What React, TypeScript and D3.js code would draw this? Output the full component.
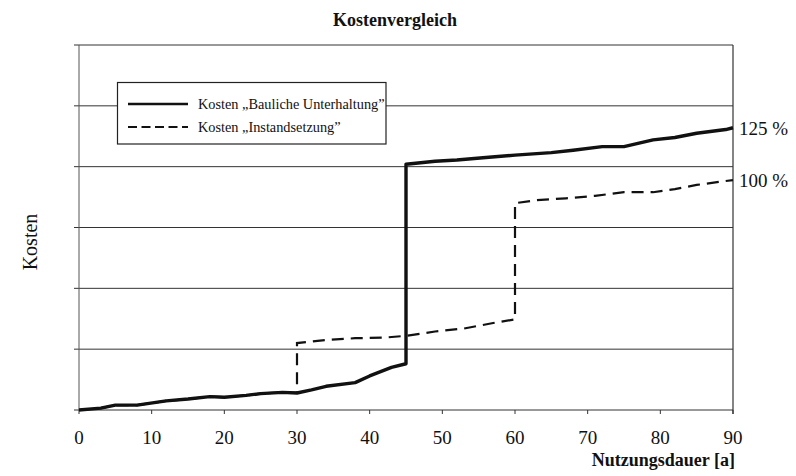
import React from "react";
import { scaleLinear, line } from "d3";

// years and cost values (in grid units, 6 grid steps on the y axis)
const yearsBau = [0, 3, 5, 8, 12, 15, 18, 20, 23, 25, 28, 30, 32, 34, 38, 40, 43, 45, 45, 49, 52, 56, 60, 65, 68, 72, 75, 79, 82, 85, 89, 90];
const costBau = [0, 0.03, 0.08, 0.08, 0.15, 0.18, 0.22, 0.21, 0.24, 0.27, 0.29, 0.28, 0.33, 0.39, 0.45, 0.56, 0.7, 0.76, 4.04, 4.09, 4.11, 4.15, 4.19, 4.23, 4.27, 4.33, 4.33, 4.44, 4.48, 4.55, 4.61, 4.64];

const yearsInst = [0, 3, 5, 8, 12, 15, 18, 20, 23, 25, 28, 30, 30, 34, 38, 42, 45, 49, 53, 57, 60, 60, 63, 67, 71, 75, 79, 82, 85, 90];
const costInst = [0, 0.03, 0.08, 0.08, 0.15, 0.18, 0.22, 0.21, 0.24, 0.27, 0.29, 0.28, 1.1, 1.15, 1.18, 1.19, 1.22, 1.29, 1.34, 1.43, 1.49, 3.4, 3.45, 3.48, 3.52, 3.58, 3.58, 3.63, 3.7, 3.78];

const xTicks = [0, 10, 20, 30, 40, 50, 60, 70, 80, 90];
const gridLevels = [0, 1, 2, 3, 4, 5, 6];

const legendLabels = ["Kosten \u201EBauliche Unterhaltung\u201D", "Kosten \u201EInstandsetzung\u201D"];
const endLabels = [
  { text: "125 %", value: 4.64 },
  { text: "100 %", value: 3.78 },
];

const W = 796;
const H = 476;
const margin = { left: 79, right: 63, top: 45, bottom: 66 };

export default function App() {
  const x = scaleLinear().domain([0, 90]).range([margin.left, W - margin.right]);
  const y = scaleLinear().domain([0, 6]).range([H - margin.bottom, margin.top]);

  const lineGen = line<[number, number]>()
    .x((d) => x(d[0]))
    .y((d) => y(d[1]));

  const bau = yearsBau.map((t, i) => [t, costBau[i]] as [number, number]);
  const inst = yearsInst.map((t, i) => [t, costInst[i]] as [number, number]);

  const font = "'Liberation Serif', 'DejaVu Serif', serif";
  const x0 = x(0);
  const x1 = x(90);

  return (
    <svg width={W} height={H} style={{ position: "absolute", left: 0, top: 0, background: "#fff" }} fontFamily={font}>
      <text x={395} y={26} textAnchor="middle" fontSize={18} fontWeight="bold" fill="#111">Kostenvergleich</text>

      {/* grid lines + y ticks */}
      {gridLevels.map((g) => (
        <line key={g} x1={x0 - 5} x2={x1} y1={y(g)} y2={y(g)} stroke="#333" strokeWidth={1} />
      ))}
      <line x1={x0} x2={x0} y1={y(6)} y2={y(0)} stroke="#555" strokeWidth={1} />
      <line x1={x1} x2={x1} y1={y(6)} y2={y(0) + 4} stroke="#333" strokeWidth={1.2} />

      {/* x ticks */}
      {xTicks.map((t) => (
        <g key={t}>
          <line x1={x(t)} x2={x(t)} y1={y(0)} y2={y(0) + 4} stroke="#333" />
          <text x={x(t)} y={444} textAnchor="middle" fontSize={19} fill="#111">{t}</text>
        </g>
      ))}

      <path d={lineGen(inst) || ""} fill="none" stroke="#111" strokeWidth={2.2} strokeDasharray="12,7" />
      <path d={lineGen(bau) || ""} fill="none" stroke="#111" strokeWidth={3.4} strokeLinejoin="round" />

      {endLabels.map((l) => (
        <text key={l.text} x={739} y={y(l.value) + 7} fontSize={19} fill="#111">{l.text}</text>
      ))}

      {/* legend */}
      <rect x={117.5} y={82.5} width={268.5} height={61.5} fill="#fff" stroke="#222" strokeWidth={1.2} />
      <line x1={128} x2={188} y1={104} y2={104} stroke="#111" strokeWidth={2.5} />
      <line x1={128} x2={188} y1={127} y2={127} stroke="#111" strokeWidth={2.2} strokeDasharray="9,4.5" />
      <text x={198} y={109} fontSize={14.3} fill="#111">{legendLabels[0]}</text>
      <text x={198} y={132} fontSize={14.3} fill="#111">{legendLabels[1]}</text>

      <text transform={`translate(37,242) rotate(-90)`} textAnchor="middle" fontSize={20} fill="#111">Kosten</text>
      <text x={735} y={466} textAnchor="end" fontSize={18} fontWeight="bold" fill="#111">Nutzungsdauer [a]</text>
    </svg>
  );
}
